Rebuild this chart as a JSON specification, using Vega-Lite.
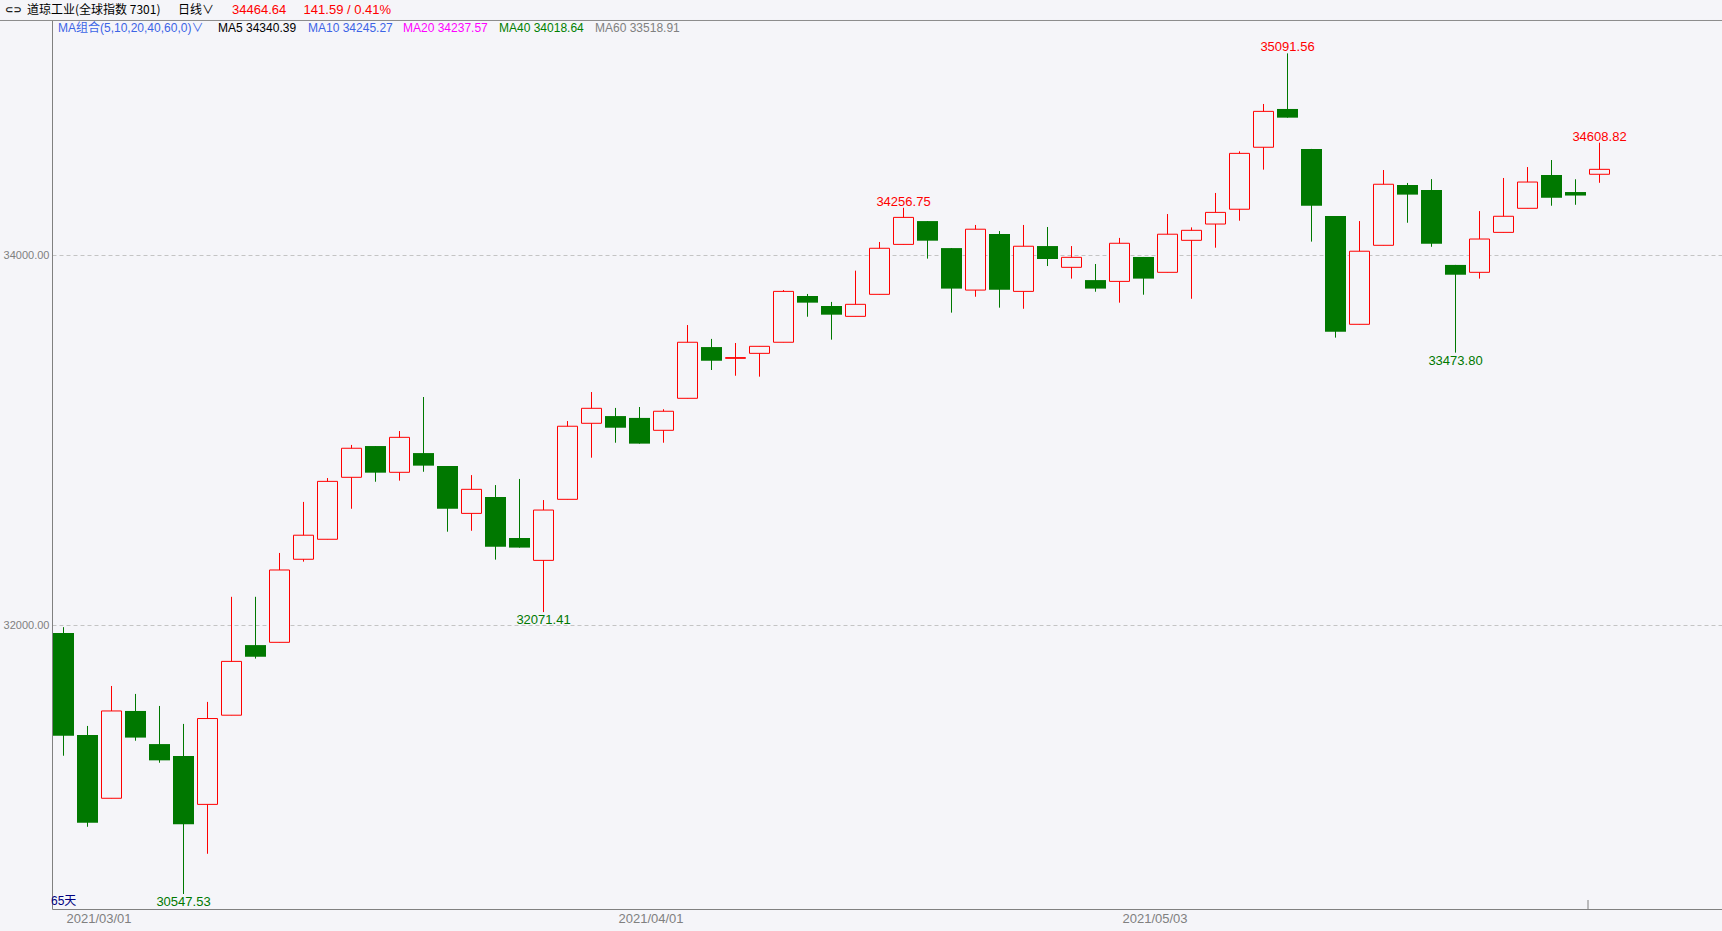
{
  "$schema": "https://vega.github.io/schema/vega-lite/v6.json",
  "width": 1670,
  "height": 889,
  "autosize": {"type": "none"},
  "padding": {"left": 52, "top": 20, "right": 0, "bottom": 22},
  "background": "#F5F5F9",
  "config": {"view": {"stroke": null}, "font": "Liberation Sans"},
  "datasets": {
    "candles": [
      {"i":0,"date":"2021-02-25","o":31958,"h":31990,"l":31295,"c":31403},
      {"i":1,"date":"2021-02-26","o":31407,"h":31456,"l":30911,"c":30933},
      {"i":2,"date":"2021-03-01","o":31065,"h":31672,"l":31065,"c":31537},
      {"i":3,"date":"2021-03-02","o":31537,"h":31629,"l":31376,"c":31393},
      {"i":4,"date":"2021-03-03","o":31358,"h":31564,"l":31257,"c":31270},
      {"i":5,"date":"2021-03-04","o":31294,"h":31467,"l":30547.53,"c":30924},
      {"i":6,"date":"2021-03-05","o":31032,"h":31586,"l":30765,"c":31496},
      {"i":7,"date":"2021-03-08","o":31514,"h":32154,"l":31514,"c":31805},
      {"i":8,"date":"2021-03-09","o":31893,"h":32154,"l":31820,"c":31830},
      {"i":9,"date":"2021-03-10","o":31908,"h":32391,"l":31908,"c":32299},
      {"i":10,"date":"2021-03-11","o":32357,"h":32667,"l":32344,"c":32487},
      {"i":11,"date":"2021-03-12","o":32465,"h":32796,"l":32465,"c":32778},
      {"i":12,"date":"2021-03-15","o":32800,"h":32975,"l":32630,"c":32957},
      {"i":13,"date":"2021-03-16","o":32969,"h":32969,"l":32776,"c":32825},
      {"i":14,"date":"2021-03-17","o":32827,"h":33050,"l":32782,"c":33016},
      {"i":15,"date":"2021-03-18","o":32931,"h":33234,"l":32830,"c":32863},
      {"i":16,"date":"2021-03-19","o":32861,"h":32861,"l":32506,"c":32630},
      {"i":17,"date":"2021-03-22","o":32605,"h":32812,"l":32511,"c":32735},
      {"i":18,"date":"2021-03-23","o":32694,"h":32758,"l":32355,"c":32425},
      {"i":19,"date":"2021-03-24","o":32472,"h":32791,"l":32420,"c":32420},
      {"i":20,"date":"2021-03-25","o":32351,"h":32677,"l":32071.41,"c":32623},
      {"i":21,"date":"2021-03-26","o":32681,"h":33104,"l":32681,"c":33076},
      {"i":22,"date":"2021-03-29","o":33092,"h":33261,"l":32906,"c":33173},
      {"i":23,"date":"2021-03-30","o":33131,"h":33175,"l":32987,"c":33068},
      {"i":24,"date":"2021-03-31","o":33121,"h":33180,"l":32982,"c":32982},
      {"i":25,"date":"2021-04-01","o":33054,"h":33168,"l":32987,"c":33157},
      {"i":26,"date":"2021-04-05","o":33227,"h":33623,"l":33227,"c":33530},
      {"i":27,"date":"2021-04-06","o":33504,"h":33548,"l":33380,"c":33430},
      {"i":28,"date":"2021-04-07","o":33443,"h":33526,"l":33349,"c":33447},
      {"i":29,"date":"2021-04-08","o":33470,"h":33508,"l":33344,"c":33508},
      {"i":30,"date":"2021-04-09","o":33530,"h":33812,"l":33530,"c":33805},
      {"i":31,"date":"2021-04-12","o":33780,"h":33791,"l":33668,"c":33744},
      {"i":32,"date":"2021-04-13","o":33726,"h":33748,"l":33544,"c":33679},
      {"i":33,"date":"2021-04-14","o":33670,"h":33917,"l":33670,"c":33735},
      {"i":34,"date":"2021-04-15","o":33789,"h":34072,"l":33789,"c":34038},
      {"i":35,"date":"2021-04-16","o":34059,"h":34256.75,"l":34059,"c":34205},
      {"i":36,"date":"2021-04-19","o":34185,"h":34185,"l":33982,"c":34079},
      {"i":37,"date":"2021-04-20","o":34039,"h":34039,"l":33690,"c":33820},
      {"i":38,"date":"2021-04-21","o":33812,"h":34164,"l":33776,"c":34141},
      {"i":39,"date":"2021-04-22","o":34115,"h":34131,"l":33717,"c":33814},
      {"i":40,"date":"2021-04-23","o":33805,"h":34164,"l":33711,"c":34049},
      {"i":41,"date":"2021-04-26","o":34050,"h":34153,"l":33942,"c":33980},
      {"i":42,"date":"2021-04-27","o":33935,"h":34050,"l":33874,"c":33989},
      {"i":43,"date":"2021-04-28","o":33866,"h":33953,"l":33803,"c":33820},
      {"i":44,"date":"2021-04-29","o":33859,"h":34094,"l":33744,"c":34065},
      {"i":45,"date":"2021-04-30","o":33991,"h":33991,"l":33787,"c":33874},
      {"i":46,"date":"2021-05-03","o":33908,"h":34223,"l":33908,"c":34114},
      {"i":47,"date":"2021-05-04","o":34081,"h":34151,"l":33765,"c":34135},
      {"i":48,"date":"2021-05-05","o":34169,"h":34337,"l":34041,"c":34232},
      {"i":49,"date":"2021-05-06","o":34249,"h":34562,"l":34187,"c":34551},
      {"i":50,"date":"2021-05-07","o":34584,"h":34818,"l":34463,"c":34778},
      {"i":51,"date":"2021-05-10","o":34791,"h":35091.56,"l":34744,"c":34744},
      {"i":52,"date":"2021-05-11","o":34575,"h":34575,"l":34074,"c":34268},
      {"i":53,"date":"2021-05-12","o":34212,"h":34212,"l":33555,"c":33587},
      {"i":54,"date":"2021-05-13","o":33627,"h":34185,"l":33627,"c":34022},
      {"i":55,"date":"2021-05-14","o":34054,"h":34461,"l":34054,"c":34384},
      {"i":56,"date":"2021-05-17","o":34380,"h":34391,"l":34176,"c":34328},
      {"i":57,"date":"2021-05-18","o":34353,"h":34412,"l":34046,"c":34063},
      {"i":58,"date":"2021-05-19","o":33948,"h":33948,"l":33473.8,"c":33895},
      {"i":59,"date":"2021-05-20","o":33908,"h":34239,"l":33874,"c":34088},
      {"i":60,"date":"2021-05-21","o":34124,"h":34418,"l":34124,"c":34211},
      {"i":61,"date":"2021-05-24","o":34254,"h":34477,"l":34254,"c":34396},
      {"i":62,"date":"2021-05-25","o":34434,"h":34515,"l":34268,"c":34311},
      {"i":63,"date":"2021-05-26","o":34342,"h":34411,"l":34273,"c":34323},
      {"i":64,"date":"2021-05-27","o":34438,"h":34608.82,"l":34392,"c":34464.64}
    ],
    "extremes": [
      {"i":51,"v":35091.56,"kind":"high"},
      {"i":35,"v":34256.75,"kind":"high"},
      {"i":64,"v":34608.82,"kind":"high"},
      {"i":5,"v":30547.53,"kind":"low"},
      {"i":20,"v":32071.41,"kind":"low"},
      {"i":58,"v":33473.8,"kind":"low"}
    ],
    "texts": [
      {"k":"icon","t":"⊂⊃"},
      {"k":"name","t":"道琼工业(全球指数 7301)"},
      {"k":"period","t":"日线∨"},
      {"k":"price","t":"34464.64"},
      {"k":"change","t":"141.59 / 0.41%"},
      {"k":"ma","t":"MA组合(5,10,20,40,60,0)∨"},
      {"k":"ma5","t":"MA5 34340.39"},
      {"k":"ma10","t":"MA10 34245.27"},
      {"k":"ma20","t":"MA20 34237.57"},
      {"k":"ma40","t":"MA40 34018.64"},
      {"k":"ma60","t":"MA60 33518.91"},
      {"k":"days","t":"65天"}
    ],
    "one": [{}]
  },
  "layer": [
    {
      "data": {"name": "candles"},
      "mark": {"type": "rule", "strokeWidth": 1},
      "encoding": {
        "x": {"field": "i", "type": "quantitative", "scale": {"domain": [-0.479167, 69.104167], "nice": false, "zero": false, "padding": 0},
          "axis": {"values": [2, 25, 46], "labelExpr": "datum.value == 2 ? '2021/03/01' : datum.value == 25 ? '2021/04/01' : '2021/05/03'", "labelOffset": -13, "grid": false, "ticks": false, "title": null, "labelFont": "Liberation Sans", "labelFontSize": 13, "labelColor": "#808080", "labelPadding": 3, "domain": true, "domainColor": "#808080", "domainWidth": 1, "labelFlush": false, "labelOverlap": false}},
        "y": {"field": "l", "type": "quantitative", "scale": {"domain": [30466.5, 35271.9], "nice": false, "zero": false, "padding": 0},
          "axis": {"values": [32000, 34000], "format": ".2f", "title": null, "grid": true, "gridColor": "#C4C4C4", "gridDash": [4, 3], "gridWidth": 1, "ticks": false, "labelPadding": 3, "labelFont": "Liberation Sans", "labelFontSize": 11, "labelColor": "#808080", "domain": true, "domainColor": "#808080", "domainWidth": 1, "labelOverlap": false}},
        "y2": {"field": "h"},
        "color": {"condition": {"test": "datum.c >= datum.o", "value": "#FF0000"}, "value": "#007800"}
      }
    },
    {
      "data": {"name": "one"},
      "mark": {"type": "rule", "color": "#8C8C8C", "strokeWidth": 1},
      "encoding": {
        "x": {"datum": -2.64583, "type": "quantitative", "scale": {"domain": [-0.479167, 69.104167], "nice": false, "zero": false, "padding": 0}},
        "x2": {"datum": 69.104167},
        "y": {"datum": 35269.2, "type": "quantitative", "scale": {"domain": [30466.5, 35271.9], "nice": false, "zero": false, "padding": 0}}
      }
    },
    {
      "data": {"name": "one"},
      "mark": {"type": "rule", "color": "#808080", "strokeWidth": 1},
      "encoding": {
        "x": {"datum": 63.521, "type": "quantitative", "scale": {"domain": [-0.479167, 69.104167], "nice": false, "zero": false, "padding": 0}},
        "y": {"datum": 30466.5, "type": "quantitative", "scale": {"domain": [30466.5, 35271.9], "nice": false, "zero": false, "padding": 0}},
        "y2": {"datum": 30515.2}
      }
    },
    {
      "data": {"name": "candles"},
      "transform": [{"filter": "datum.c < datum.o"}],
      "mark": {"type": "bar", "size": 21, "color": "#007800"},
      "encoding": {
        "x": {"field": "i", "type": "quantitative", "scale": {"domain": [-0.479167, 69.104167], "nice": false, "zero": false, "padding": 0}},
        "y": {"field": "o", "type": "quantitative", "scale": {"domain": [30466.5, 35271.9], "nice": false, "zero": false, "padding": 0}},
        "y2": {"field": "c"}
      }
    },
    {
      "data": {"name": "candles"},
      "transform": [{"filter": "datum.c >= datum.o"}],
      "mark": {"type": "bar", "size": 20, "fill": "#F5F5F9", "stroke": "#FF0000", "strokeWidth": 1},
      "encoding": {
        "x": {"field": "i", "type": "quantitative", "scale": {"domain": [-0.479167, 69.104167], "nice": false, "zero": false, "padding": 0}},
        "y": {"field": "o", "type": "quantitative", "scale": {"domain": [30466.5, 35271.9], "nice": false, "zero": false, "padding": 0}},
        "y2": {"field": "c"}
      }
    },
    {
      "data": {"name": "extremes"},
      "transform": [{"filter": "datum.kind == 'high'"}],
      "mark": {"type": "text", "align": "center", "baseline": "alphabetic", "dy": -2, "fontSize": 13, "font": "Liberation Sans", "color": "#FF0000"},
      "encoding": {
        "x": {"field": "i", "type": "quantitative", "scale": {"domain": [-0.479167, 69.104167], "nice": false, "zero": false, "padding": 0}},
        "y": {"field": "v", "type": "quantitative", "scale": {"domain": [30466.5, 35271.9], "nice": false, "zero": false, "padding": 0}},
        "text": {"field": "v", "type": "quantitative", "format": ".2f"}
      }
    },
    {
      "data": {"name": "extremes"},
      "transform": [{"filter": "datum.kind == 'low'"}],
      "mark": {"type": "text", "align": "center", "baseline": "top", "dy": 2, "fontSize": 13, "font": "Liberation Sans", "color": "#007800"},
      "encoding": {
        "x": {"field": "i", "type": "quantitative", "scale": {"domain": [-0.479167, 69.104167], "nice": false, "zero": false, "padding": 0}},
        "y": {"field": "v", "type": "quantitative", "scale": {"domain": [30466.5, 35271.9], "nice": false, "zero": false, "padding": 0}},
        "text": {"field": "v", "type": "quantitative", "format": ".2f"}
      }
    },
    {
      "data": {"name": "texts"},
      "transform": [{"filter": "datum.k == 'icon'"}],
      "mark": {"type": "text", "align": "left", "baseline": "middle", "fontSize": 10, "font": "DejaVu Sans", "fontWeight": "bold", "color": "#202020"},
      "encoding": {
        "x": {"datum": -2.437, "type": "quantitative", "scale": {"domain": [-0.479167, 69.104167], "nice": false, "zero": false, "padding": 0}},
        "y": {"datum": 35325.9, "type": "quantitative", "scale": {"domain": [30466.5, 35271.9], "nice": false, "zero": false, "padding": 0}},
        "text": {"field": "t"}
      }
    },
    {
      "data": {"name": "texts"},
      "transform": [{"filter": "datum.k == 'name'"}],
      "mark": {"type": "text", "align": "left", "baseline": "middle", "fontSize": 12, "font": "Noto Sans CJK SC", "color": "#000000"},
      "encoding": {
        "x": {"datum": -1.521, "type": "quantitative", "scale": {"domain": [-0.479167, 69.104167], "nice": false, "zero": false, "padding": 0}},
        "y": {"datum": 35325.9, "type": "quantitative", "scale": {"domain": [30466.5, 35271.9], "nice": false, "zero": false, "padding": 0}},
        "text": {"field": "t"}
      }
    },
    {
      "data": {"name": "texts"},
      "transform": [{"filter": "datum.k == 'period'"}],
      "mark": {"type": "text", "align": "left", "baseline": "middle", "fontSize": 12, "font": "Noto Sans CJK SC", "color": "#000000"},
      "encoding": {
        "x": {"datum": 4.771, "type": "quantitative", "scale": {"domain": [-0.479167, 69.104167], "nice": false, "zero": false, "padding": 0}},
        "y": {"datum": 35325.9, "type": "quantitative", "scale": {"domain": [30466.5, 35271.9], "nice": false, "zero": false, "padding": 0}},
        "text": {"field": "t"}
      }
    },
    {
      "data": {"name": "texts"},
      "transform": [{"filter": "datum.k == 'price'"}],
      "mark": {"type": "text", "align": "left", "baseline": "middle", "fontSize": 13, "font": "Liberation Sans", "color": "#FF0000"},
      "encoding": {
        "x": {"datum": 7.021, "type": "quantitative", "scale": {"domain": [-0.479167, 69.104167], "nice": false, "zero": false, "padding": 0}},
        "y": {"datum": 35325.9, "type": "quantitative", "scale": {"domain": [30466.5, 35271.9], "nice": false, "zero": false, "padding": 0}},
        "text": {"field": "t"}
      }
    },
    {
      "data": {"name": "texts"},
      "transform": [{"filter": "datum.k == 'change'"}],
      "mark": {"type": "text", "align": "left", "baseline": "middle", "fontSize": 13, "font": "Liberation Sans", "color": "#FF0000"},
      "encoding": {
        "x": {"datum": 10.004, "type": "quantitative", "scale": {"domain": [-0.479167, 69.104167], "nice": false, "zero": false, "padding": 0}},
        "y": {"datum": 35325.9, "type": "quantitative", "scale": {"domain": [30466.5, 35271.9], "nice": false, "zero": false, "padding": 0}},
        "text": {"field": "t"}
      }
    },
    {
      "data": {"name": "texts"},
      "transform": [{"filter": "datum.k == 'ma'"}],
      "mark": {"type": "text", "align": "left", "baseline": "middle", "fontSize": 12, "font": "Liberation Sans, Noto Sans CJK SC", "color": "#3C64E6"},
      "encoding": {
        "x": {"datum": -0.229, "type": "quantitative", "scale": {"domain": [-0.479167, 69.104167], "nice": false, "zero": false, "padding": 0}},
        "y": {"datum": 35228.6, "type": "quantitative", "scale": {"domain": [30466.5, 35271.9], "nice": false, "zero": false, "padding": 0}},
        "text": {"field": "t"}
      }
    },
    {
      "data": {"name": "texts"},
      "transform": [{"filter": "datum.k == 'ma5'"}],
      "mark": {"type": "text", "align": "left", "baseline": "middle", "fontSize": 12, "font": "Liberation Sans", "color": "#000000"},
      "encoding": {
        "x": {"datum": 6.438, "type": "quantitative", "scale": {"domain": [-0.479167, 69.104167], "nice": false, "zero": false, "padding": 0}},
        "y": {"datum": 35228.6, "type": "quantitative", "scale": {"domain": [30466.5, 35271.9], "nice": false, "zero": false, "padding": 0}},
        "text": {"field": "t"}
      }
    },
    {
      "data": {"name": "texts"},
      "transform": [{"filter": "datum.k == 'ma10'"}],
      "mark": {"type": "text", "align": "left", "baseline": "middle", "fontSize": 12, "font": "Liberation Sans", "color": "#3C64E6"},
      "encoding": {
        "x": {"datum": 10.188, "type": "quantitative", "scale": {"domain": [-0.479167, 69.104167], "nice": false, "zero": false, "padding": 0}},
        "y": {"datum": 35228.6, "type": "quantitative", "scale": {"domain": [30466.5, 35271.9], "nice": false, "zero": false, "padding": 0}},
        "text": {"field": "t"}
      }
    },
    {
      "data": {"name": "texts"},
      "transform": [{"filter": "datum.k == 'ma20'"}],
      "mark": {"type": "text", "align": "left", "baseline": "middle", "fontSize": 12, "font": "Liberation Sans", "color": "#FF00FF"},
      "encoding": {
        "x": {"datum": 14.146, "type": "quantitative", "scale": {"domain": [-0.479167, 69.104167], "nice": false, "zero": false, "padding": 0}},
        "y": {"datum": 35228.6, "type": "quantitative", "scale": {"domain": [30466.5, 35271.9], "nice": false, "zero": false, "padding": 0}},
        "text": {"field": "t"}
      }
    },
    {
      "data": {"name": "texts"},
      "transform": [{"filter": "datum.k == 'ma40'"}],
      "mark": {"type": "text", "align": "left", "baseline": "middle", "fontSize": 12, "font": "Liberation Sans", "color": "#008000"},
      "encoding": {
        "x": {"datum": 18.146, "type": "quantitative", "scale": {"domain": [-0.479167, 69.104167], "nice": false, "zero": false, "padding": 0}},
        "y": {"datum": 35228.6, "type": "quantitative", "scale": {"domain": [30466.5, 35271.9], "nice": false, "zero": false, "padding": 0}},
        "text": {"field": "t"}
      }
    },
    {
      "data": {"name": "texts"},
      "transform": [{"filter": "datum.k == 'ma60'"}],
      "mark": {"type": "text", "align": "left", "baseline": "middle", "fontSize": 12, "font": "Liberation Sans", "color": "#808080"},
      "encoding": {
        "x": {"datum": 22.146, "type": "quantitative", "scale": {"domain": [-0.479167, 69.104167], "nice": false, "zero": false, "padding": 0}},
        "y": {"datum": 35228.6, "type": "quantitative", "scale": {"domain": [30466.5, 35271.9], "nice": false, "zero": false, "padding": 0}},
        "text": {"field": "t"}
      }
    },
    {
      "data": {"name": "texts"},
      "transform": [{"filter": "datum.k == 'days'"}],
      "mark": {"type": "text", "align": "left", "baseline": "middle", "fontSize": 12, "font": "Liberation Sans, Noto Sans CJK SC", "color": "#000080"},
      "encoding": {
        "x": {"datum": -0.521, "type": "quantitative", "scale": {"domain": [-0.479167, 69.104167], "nice": false, "zero": false, "padding": 0}},
        "y": {"datum": 30509.7, "type": "quantitative", "scale": {"domain": [30466.5, 35271.9], "nice": false, "zero": false, "padding": 0}},
        "text": {"field": "t"}
      }
    }
  ]
}
